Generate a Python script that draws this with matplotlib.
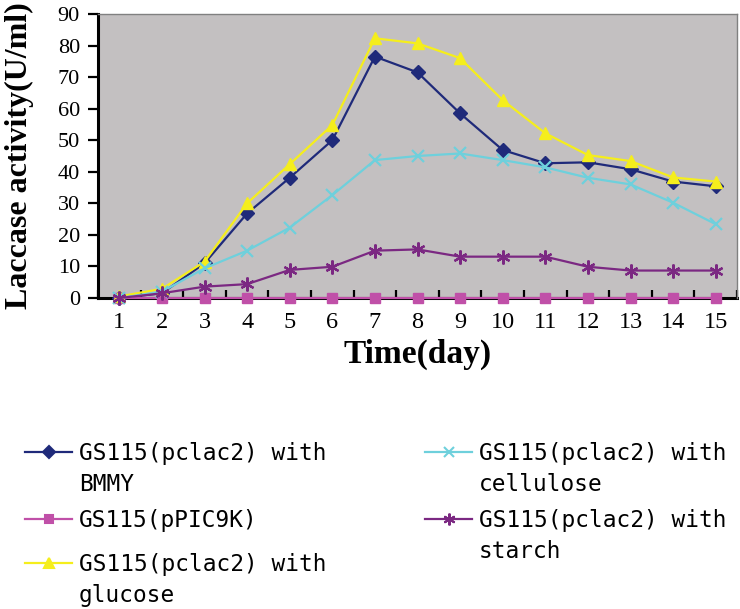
import matplotlib
matplotlib.use("Agg")
import matplotlib.pyplot as plt
from matplotlib.lines import Line2D
import numpy as np

# x categories
days = list(range(1, 16))

# laccase activity (U/ml)
bmmy      = [0, 1.5, 11, 26.8, 38.1, 50, 76.5, 71.5, 58.5, 46.9, 42.7, 43, 40.8, 36.9, 35.4]
ppic9k    = [0, 0, 0, 0, 0, 0, 0, 0, 0, 0, 0, 0, 0, 0, 0]
glucose   = [0.5, 2.9, 11.5, 30, 42.4, 54.8, 82.3, 80.7, 76, 62.7, 52.2, 45.3, 43.4, 38.2, 36.9]
cellulose = [0, 2, 9.4, 15, 22.3, 32.6, 43.7, 45, 45.8, 43.7, 41.4, 38.1, 36, 30.2, 23.4]
starch    = [0, 1.5, 3.6, 4.4, 8.9, 9.9, 15, 15.4, 13.1, 13.1, 13.1, 9.9, 8.7, 8.7, 8.7]

labels = ["GS115(pclac2) with\nBMMY",
          "GS115(pPIC9K)",
          "GS115(pclac2) with\nglucose",
          "GS115(pclac2) with\ncellulose",
          "GS115(pclac2) with\nstarch"]
series = [bmmy, ppic9k, glucose, cellulose, starch]
colors = ["#1f2a7a", "#c050a8", "#f5ee1c", "#6ed0dc", "#7b2882"]
markers = ["D", "s", "^", "x", (6, 2, 0)]
msizes = [7, 6.5, 9, 9, 10]

serif = "Liberation Serif"

fig = plt.figure(figsize=(7.4, 6.09), dpi=100)
ax = fig.add_axes([98/740, 1-298/609, (737-98)/740, (298-14)/609])
ax.set_facecolor("#c3c0c1")

for y, c, m, ms, lab in zip(series, colors, markers, msizes, labels):
    ax.plot(days, y, color=c, marker=m, markersize=ms, lw=1.6,
            mew=1.6 if m in ("x",) or isinstance(m, tuple) else 1,
            label=lab, clip_on=False, zorder=3)

ax.set_xlim(0.5, 15.5)
ax.set_ylim(0, 90)
ax.set_yticks(np.arange(0, 91, 10))
ax.set_xticks(days)
ax.set_xticks(np.arange(0.5, 15.6, 1), minor=True)

for s in ["left", "bottom"]:
    ax.spines[s].set_color("black")
    ax.spines[s].set_linewidth(2.2)
    ax.spines[s].set_zorder(2)
for s in ["top", "right"]:
    ax.spines[s].set_color("#808080")
    ax.spines[s].set_linewidth(1.0)

ax.tick_params(axis="y", direction="out", length=7, width=1.6, pad=6,
               labelsize=16)
ax.tick_params(axis="x", which="major", length=0, pad=10, labelsize=17.5)
ax.tick_params(axis="x", which="minor", direction="in", length=6, width=1.6)
for t in ax.get_xticklabels() + ax.get_yticklabels():
    t.set_fontfamily(serif)

ax.set_xlabel("Time(day)", fontsize=24, fontweight="bold", family=serif,
              labelpad=4)
ax.set_ylabel("Laccase activity(U/ml)", fontsize=23, fontweight="bold",
              family=serif)
ax.yaxis.set_label_coords(-0.1, 0.5)

# legend below the plot, laid out like the original (2 columns)
leg_pos = [(25, 452), (25, 519), (25, 563), (425, 452), (425, 519)]
for (hx, cy), c, m, ms, lab in zip(leg_pos, colors, markers, msizes, labels):
    x0, x1 = hx / 740, (hx + 47) / 740
    yy = 1 - cy / 609
    fig.add_artist(Line2D([x0, x1], [yy, yy], color=c, lw=1.6,
                          transform=fig.transFigure))
    fig.add_artist(Line2D([(x0 + x1) / 2], [yy], color=c, marker=m,
                          markersize=ms * 0.85, mew=1.5,
                          transform=fig.transFigure))
    fig.text((hx + 54) / 740, 1 - (cy - 10) / 609, lab,
             family="DejaVu Sans Mono", fontsize=16.4, va="top",
             ha="left", linespacing=1.47)

fig.savefig("out.png", dpi=100)
